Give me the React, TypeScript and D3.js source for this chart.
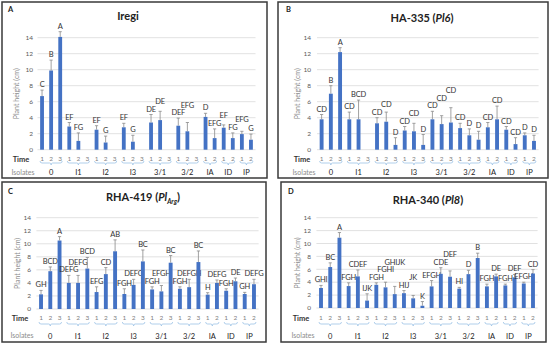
import React, { type JSX } from "react";
import * as d3 from "d3";

// Categories
const isolates = ["0", "I1", "I2", "I3", "3/1", "3/2", "IA", "ID", "IP"];
const timesPerIsolate = [3, 3, 3, 3, 3, 3, 2, 2, 2];
const yTicks = [0, 2, 4, 6, 8, 10, 12, 14];

// A - Iregi
const iregiMeans = [6.7, 9.9, 14.1, 2.9, 1.1, null, 2.5, 0.9, null, 2.8, 1.0, null, 3.4, 3.7, null, 3.0, 2.3, null, 4.1, 1.45, 2.75, 1.45, 1.95, 1.25];
const iregiErrs = [0.75, 1.3, 0.65, 0.5, 1.0, null, 0.5, 0.8, null, 0.5, 0.8, null, 1.0, 1.1, null, 0.95, 1.1, null, 0.45, 1.15, 0.35, 0.65, 0.35, 0.7];
const iregiLetters = ["C", "B", "A", "EF", "FG", "", "EF", "G", "", "EF", "G", "", "DE", "DE", "", "DEF", "EFG", "", "D", "EFG", "EF", "FG", "EFG", "G"];

// B - HA-335
const ha335Means = [3.8, 7.0, 12.2, 3.8, 3.8, null, 3.3, 3.5, 0.6, 2.4, 2.3, 0.6, 3.8, 3.2, 3.4, 2.7, 1.8, 1.25, 2.8, 3.8, 2.5, 0.7, 1.8, 1.1];
const ha335Errs = [0.6, 1.0, 0.55, 0.9, 2.4, null, 0.7, 1.2, 0.9, 0.5, 1.0, 1.3, 1.0, 1.05, 1.85, 0.6, 0.8, 1.05, 0.6, 1.65, 0.4, 0.8, 0.3, 0.7];
const ha335Letters = ["CD", "B", "A", "CD", "BCD", "", "CD", "CD", "D", "CD", "CD", "D", "CD", "CD", "CD", "CD", "D", "D", "CD", "CD", "CD", "CD", "D", "D"];

// C - RHA-419
const rha419Means = [2.25, 5.8, 10.5, 4.0, 4.0, 6.2, 2.6, 5.35, 8.85, 2.3, 3.7, 7.3, 3.0, 2.7, 7.1, 3.1, 3.35, 7.2, 2.2, 4.0, 2.8, 4.25, 2.3, 3.8];
const rha419Errs = [0.6, 0.65, 0.6, 1.15, 1.15, 1.7, 0.8, 1.0, 1.75, 0.8, 0.85, 1.75, 0.4, 0.9, 1.1, 0.3, 1.2, 1.7, 0.3, 0.45, 0.3, 0.5, 0.25, 0.75];
const rha419Letters = ["GH", "BCD", "A", "DEFG", "DEFG", "BCD", "EFG", "CD", "AB", "FGH", "DEFG", "BC", "FGH", "EFGH", "BC", "FGH", "DEFGH", "BC", "H", "DEFG", "FGH", "DE", "GH", "DEFG"];

// D - RHA-340
const rha340Means = [3.1, 6.35, 10.9, 3.4, 4.9, 1.15, 3.6, 3.2, 2.15, 2.3, 1.5, 0.35, 3.35, 5.3, 4.85, 3.0, 5.25, 7.75, 3.35, 4.9, 3.5, 4.75, 3.8, 5.35];
const rha340Errs = [0.4, 0.65, 0.8, 0.5, 1.0, 1.05, 0.3, 0.8, 1.2, 0.4, 0.45, 0.65, 0.9, 0.95, 0.9, 0.2, 0.6, 0.75, 0.35, 0.35, 0.2, 0.45, 0.2, 0.6];
const rha340Letters = ["GHI", "BC", "A", "FGH", "CDEF", "IJK", "FGH", "FGHI", "GHIJK", "HIJ", "JK", "K", "EFGH", "CDE", "DEF", "HI", "D", "B", "FGH", "DE", "FGH", "DEF", "EFGH", "CD"];

const FONT = "Lato, 'Liberation Sans', Arial, sans-serif";
const BAR = "#4472c4";
const LETTER_SIZE = 7.5;

interface Slot { iso: string; t: number; key: string; }
const slots: Slot[] = isolates.flatMap((iso, i) =>
    d3.range(1, timesPerIsolate[i] + 1).map(t => ({ iso, t, key: `${iso}-${t}` })));

interface IPanelProps {
    letter: string;
    letterPos: [number, number];
    title: JSX.Element;
    titlePos: [number, number];
    box: [number, number, number, number];
    xRange: [number, number];
    yRange: [number, number];
    tickX: number;
    yTitleX: number;
    labelX: number;
    timeY: number;
    braceY: number;
    isoY: number;
    means: (number | null)[];
    errs: (number | null)[];
    letters: string[];
}

// push a label up until it no longer collides with the ones already placed
function placeLabels(items: { cx: number, y: number, text: string }[]) {
    const placed: { x0: number, x1: number, y: number }[] = [];
    const lineH = LETTER_SIZE * 1.0;
    return items.map(it => {
        const w = it.text.length * LETTER_SIZE * 0.66;
        const x0 = it.cx - w / 2, x1 = it.cx + w / 2;
        let y = it.y;
        for (let guard = 0; guard < 40; guard++) {
            const hit = placed.find(p => x0 < p.x1 + 0.8 && x1 > p.x0 - 0.8 && Math.abs(p.y - y) < lineH);
            if (!hit) break;
            y = hit.y - lineH;
        }
        placed.push({ x0, x1, y });
        return y;
    });
}

function Panel(props: IPanelProps): JSX.Element {
    const { box, means, errs, letters } = props;
    const x = d3.scaleBand<string>().domain(slots.map(s => s.key)).range(props.xRange).paddingInner(0.58).paddingOuter(0.29);
    const y = d3.scaleLinear([0, 14], props.yRange);
    const cx = (k: string) => x(k)! + x.bandwidth() / 2;

    const labelItems = slots.map((s, i) => ({
        cx: cx(s.key),
        y: y((means[i] ?? 0) + (errs[i] ?? 0)) - 3,
        text: letters[i]
    }));
    const labelYs = placeLabels(labelItems.filter(l => l.text));
    let li = 0;
    const labelY = labelItems.map(l => l.text ? labelYs[li++] : 0);

    return <g fontFamily={FONT}>
        <rect x={box[0]} y={box[1]} width={box[2] - box[0]} height={box[3] - box[1]} fill="white" stroke="#3a3a3a" strokeWidth={1.5} />
        <text x={props.letterPos[0]} y={props.letterPos[1]} fontSize={7.5} fontWeight="bold" fill="#222">{props.letter}</text>
        <text x={props.titlePos[0]} y={props.titlePos[1]} fontSize={11} fontWeight="bold" fill="#222" textAnchor="middle">{props.title}</text>

        {/* grid */}
        {yTicks.map(t => (
            <g key={t}>
                <line x1={props.xRange[0]} x2={props.xRange[1]} y1={y(t)} y2={y(t)} stroke="#d9d9d9" strokeWidth={0.8} />
                <text x={props.tickX} y={y(t)} dy="0.35em" fontSize={6.5} fill="#595959" textAnchor="end">{t}</text>
            </g>
        ))}
        <text transform={`translate(${props.yTitleX},${(props.yRange[0] + props.yRange[1]) / 2}) rotate(-90)`}
            fontSize={7} fill="#8c8c8c" textAnchor="middle" dominantBaseline="middle">Plant height (cm)</text>

        {/* bars */}
        {slots.map((s, i) => {
            const m = means[i];
            if (m == null) return null;
            const top = m + (errs[i] ?? 0);
            const c = cx(s.key);
            return <g key={s.key}>
                <rect x={x(s.key)} y={y(m)} width={x.bandwidth()} height={y(0) - y(m)} fill={BAR} />
                <line x1={c} x2={c} y1={y(m)} y2={y(top)} stroke="#8a8a8a" strokeWidth={0.8} />
                <line x1={c - 1.6} x2={c + 1.6} y1={y(top)} y2={y(top)} stroke="#8a8a8a" strokeWidth={0.8} />
                <text x={c} y={labelY[i]} fontSize={LETTER_SIZE} fill="#333" textAnchor="middle" letterSpacing={-0.2}>{letters[i]}</text>
            </g>;
        })}

        {/* time labels */}
        <text x={props.labelX} y={props.timeY} dy="0.35em" fontSize={7.5} fontWeight="bold" fill="#333" textAnchor="middle">Time</text>
        <text x={props.labelX + 2} y={props.isoY} dy="0.35em" fontSize={7} fill="#8c8c8c" textAnchor="middle">Isolates</text>
        {slots.map(s => (
            <text key={s.key} x={cx(s.key)} y={props.timeY} dy="0.35em" fontSize={6.5} fill="#7f7f7f" textAnchor="middle">{s.t}</text>
        ))}
        {isolates.map((iso, gi) => {
            const grp = slots.filter(s => s.iso === iso);
            const x0 = cx(grp[0].key) - 2;
            const x1 = cx(grp[grp.length - 1].key) + 2;
            const xm = (x0 + x1) / 2;
            const by = props.braceY;
            const d = `M${x0},${by - 2} Q${x0},${by} ${x0 + 2},${by} L${xm - 1.5},${by} Q${xm},${by} ${xm},${by + 2} Q${xm},${by} ${xm + 1.5},${by} L${x1 - 2},${by} Q${x1},${by} ${x1},${by - 2}`;
            return <g key={gi}>
                <path d={d} fill="none" stroke="#9dc3e6" strokeWidth={0.8} />
                <text x={xm} y={props.isoY} dy="0.35em" fontSize={7.5} fill="#222" textAnchor="middle">{iso}</text>
            </g>;
        })}
    </g>;
}

export default function App(): JSX.Element {
    return <svg width={550} height={345} style={{ position: "absolute", left: 0, top: 0 }}>
        <rect width={550} height={345} fill="white" />
        <Panel letter="A" letterPos={[8, 12]} title={<tspan>Iregi</tspan>} titlePos={[128, 20]}
            box={[2, 2, 267, 178]} xRange={[37.5, 255.5]} yRange={[149.7, 37.7]}
            tickX={33} yTitleX={17} labelX={21} timeY={159} braceY={163} isoY={172.5}
            means={iregiMeans} errs={iregiErrs} letters={iregiLetters} />
        <Panel letter="B" letterPos={[286, 12]}
            title={<><tspan>HA-335 (</tspan><tspan fontStyle="italic">Pl6</tspan><tspan>)</tspan></>} titlePos={[422, 22]}
            box={[278, 2, 548, 178]} xRange={[317, 538.6]} yRange={[149.7, 37.7]}
            tickX={311} yTitleX={298} labelX={302} timeY={159} braceY={163} isoY={172.5}
            means={ha335Means} errs={ha335Errs} letters={ha335Letters} />
        <Panel letter="C" letterPos={[8, 194]}
            title={<><tspan>RHA-419 (</tspan><tspan fontStyle="italic">Pl</tspan><tspan fontStyle="italic" fontSize={6.5} dy={2.5}>Arg</tspan><tspan dy={-2.5}>)</tspan></>} titlePos={[143, 201]}
            box={[2, 182, 266, 342]} xRange={[36.4, 258.6]} yRange={[309, 217.7]}
            tickX={31} yTitleX={18} labelX={20} timeY={318} braceY={324} isoY={336}
            means={rha419Means} errs={rha419Errs} letters={rha419Letters} />
        <Panel letter="D" letterPos={[288, 194]}
            title={<><tspan>RHA-340 (</tspan><tspan fontStyle="italic">Pl8</tspan><tspan>)</tspan></>} titlePos={[428, 204]}
            box={[281, 182, 546, 342]} xRange={[316.4, 537.6]} yRange={[308, 217.7]}
            tickX={311} yTitleX={298} labelX={301} timeY={318} braceY={324} isoY={336}
            means={rha340Means} errs={rha340Errs} letters={rha340Letters} />
    </svg>;
}
